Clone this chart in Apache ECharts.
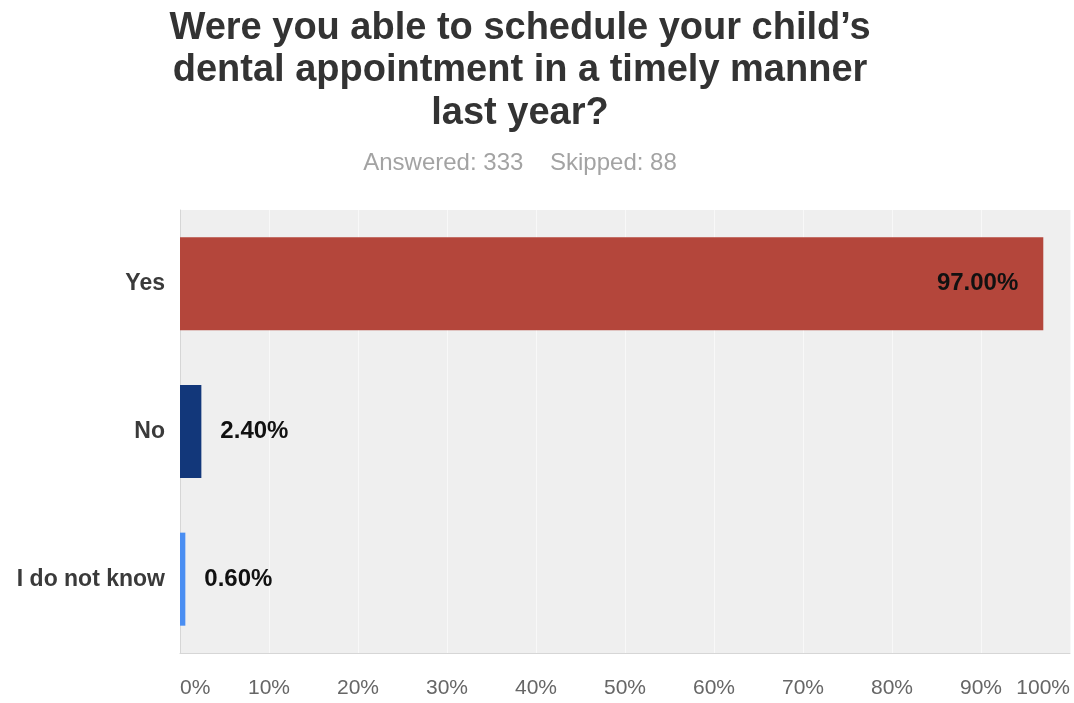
<!DOCTYPE html>
<html>
<head>
<meta charset="utf-8">
<script src="https://cdn.jsdelivr.net/npm/echarts@6/dist/echarts.min.js"></script>
<style>
  html, body { margin: 0; padding: 0; background: #fff; }
  #chart { width: 1074px; height: 703px; }
</style>
</head>
<body>
<div id="chart"></div>
<script>
// Survey answers, top to bottom
const answers = ['Yes', 'No', 'I do not know'];
const percents = [97.00, 2.40, 0.60];
const barColors = ['#b4463b', '#12377a', '#4a8ef2'];
const tickLabels = ['0%', '10%', '20%', '30%', '40%', '50%', '60%', '70%', '80%', '90%', '100%'];

const titleText = 'Were you able to schedule your child\u2019s\ndental appointment in a timely manner\nlast year?';
const subText = 'Answered: 333    Skipped: 88';

const font = '"Liberation Sans", Arial, Helvetica, sans-serif';
const chart = echarts.init(document.getElementById('chart'), null, { renderer: 'canvas' });

chart.setOption({
  backgroundColor: '#ffffff',
  animation: false,
  title: [
    {
      text: titleText,
      left: 515, top: 2, textAlign: 'center',
      textStyle: { fontFamily: font, fontSize: 38, fontWeight: 'bold', color: '#333', lineHeight: 42.5 }
    },
    {
      text: subText,
      left: 515, top: 146, textAlign: 'center',
      textStyle: { fontFamily: font, fontSize: 24, fontWeight: 'normal', color: '#a3a3a3' }
    }
  ],
  grid: { left: 180, right: 4, top: 210, bottom: 50, containLabel: false,
          show: true, backgroundColor: '#efefef', borderWidth: 0 },
  xAxis: {
    type: 'value', min: 0, max: 100, interval: 10,
    axisLine: { show: true, lineStyle: { color: '#d6d6d6', width: 1 } },
    axisTick: { show: false },
    splitLine: { show: true, lineStyle: { color: '#f8f8f8', width: 1 } },
    axisLabel: {
      margin: 25, color: '#666', fontFamily: font, fontSize: 21,
      alignMinLabel: 'left', alignMaxLabel: 'right',
      formatter: (v) => tickLabels[Math.round(v / 10)]
    }
  },
  yAxis: {
    type: 'category', data: answers, inverse: true,
    axisLine: { show: true, lineStyle: { color: '#d6d6d6', width: 1 } },
    axisTick: { show: false },
    axisLabel: { margin: 15, color: '#3a3a3a', fontFamily: font, fontSize: 23, fontWeight: 'bold' }
  },
  series: [{
    type: 'bar',
    barWidth: '63%',
    data: percents.map((v, i) => ({
      value: v,
      itemStyle: { color: barColors[i] },
      label: i === 0
        ? { position: 'insideRight', distance: 25 }
        : { position: 'right', distance: 19 }
    })),
    label: {
      show: true, color: '#111', fontFamily: font, fontSize: 24, fontWeight: 'bold',
      formatter: (p) => p.value.toFixed(2) + '%'
    }
  }]
});
</script>
</body>
</html>
